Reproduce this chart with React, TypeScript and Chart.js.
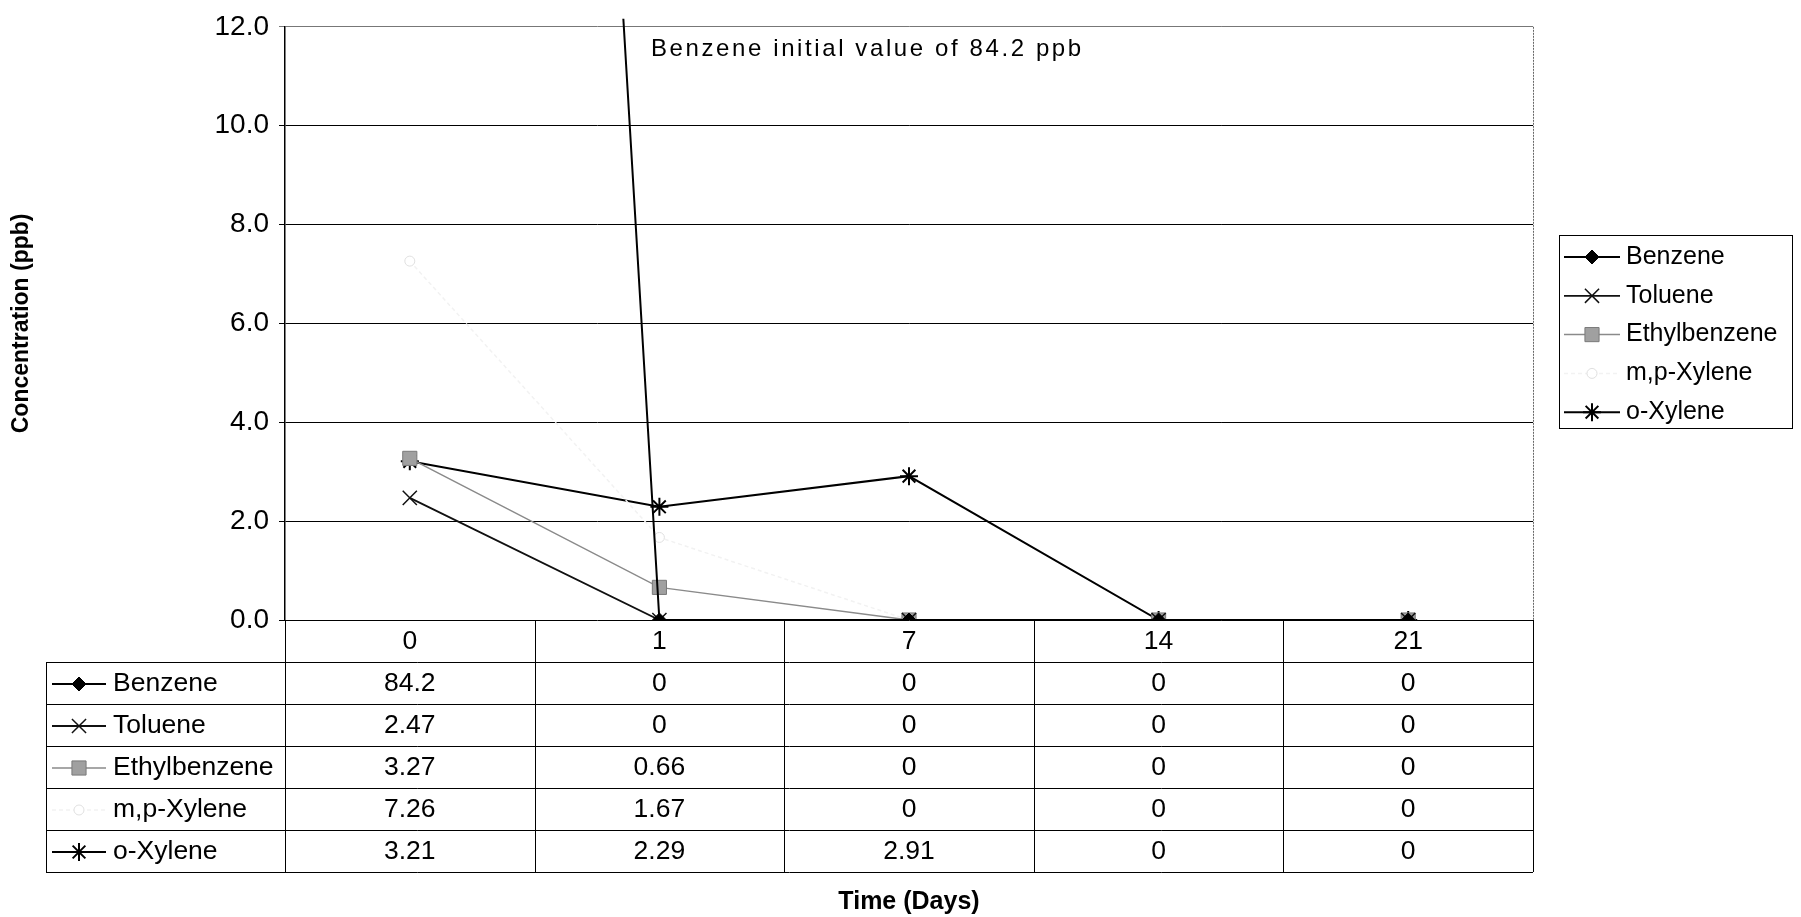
import React, { useEffect, useRef } from 'react';
import { Chart, registerables } from 'chart.js';
import { drawPoint } from 'chart.js/helpers';

Chart.register(...registerables);

const days = ['0', '1', '7', '14', '21'];
const benzene = [84.2, 0, 0, 0, 0];
const toluene = [2.47, 0, 0, 0, 0];
const ethylbenzene = [3.27, 0.66, 0, 0, 0];
const mpXylene = [7.26, 1.67, 0, 0, 0];
const oXylene = [3.21, 2.29, 2.91, 0, 0];
const seriesNames = ['Benzene', 'Toluene', 'Ethylbenzene', 'm,p-Xylene', 'o-Xylene'];
const yMin = 0;
const yMax = 12;
const yStep = 2;
const annotationText = 'Benzene initial value of 84.2 ppb';
const xTitle = 'Time (Days)';
const yTitle = 'Concentration (ppb)';

const FONT = "'Liberation Sans', Arial, sans-serif";

function drawKey(ctx: CanvasRenderingContext2D, ds: any, x1: number, x2: number, y: number) {
  ctx.save();
  ctx.strokeStyle = ds.borderColor;
  ctx.lineWidth = ds.borderWidth;
  ctx.setLineDash(ds.borderDash || []);
  ctx.beginPath();
  ctx.moveTo(x1, y);
  ctx.lineTo(x2, y);
  ctx.stroke();
  ctx.setLineDash([]);
  ctx.fillStyle = ds.pointBackgroundColor;
  ctx.strokeStyle = ds.pointBorderColor;
  ctx.lineWidth = ds.pointBorderWidth;
  drawPoint(ctx, { pointStyle: ds.pointStyle, rotation: 0, radius: ds.pointRadius, borderWidth: ds.pointBorderWidth } as any, (x1 + x2) / 2, y);
  ctx.restore();
}

const tablePlugin = {
  id: 'dataTable',
  afterDraw(chart: any) {
    const { ctx, chartArea: ca } = chart;
    const xs = chart.scales.x;
    const n = days.length;
    const colW = (ca.right - ca.left) / n;
    const tableLeft = 46;
    const rowH = 42;
    const headerTop = ca.bottom;
    const rowTop = ca.bottom + 42;
    const dsets = chart.data.datasets;
    const tableBottom = rowTop + rowH * dsets.length;
    ctx.save();

    // plot right border (dotted gray)
    ctx.strokeStyle = '#666';
    ctx.lineWidth = 1;
    ctx.setLineDash([2, 1]);
    ctx.beginPath();
    ctx.moveTo(Math.round(ca.right) + 0.5, ca.top);
    ctx.lineTo(Math.round(ca.right) + 0.5, ca.bottom);
    ctx.stroke();
    ctx.setLineDash([]);

    // table lines
    ctx.strokeStyle = '#000';
    ctx.lineWidth = 1;
    ctx.beginPath();
    for (let i = 0; i <= n; i++) {
      const x = Math.round(ca.left + i * colW) + 0.5;
      ctx.moveTo(x, headerTop);
      ctx.lineTo(x, tableBottom);
    }
    ctx.moveTo(tableLeft + 0.5, rowTop);
    ctx.lineTo(tableLeft + 0.5, tableBottom);
    for (let r = 0; r <= dsets.length; r++) {
      const y = Math.round(rowTop + r * rowH) + 0.5;
      ctx.moveTo(tableLeft, y);
      ctx.lineTo(ca.right, y);
    }
    ctx.stroke();

    // rows
    dsets.forEach((ds: any, r: number) => {
      const yc = rowTop + r * rowH + rowH / 2 + 1;
      drawKey(ctx, ds, 52, 106, yc);
      ctx.fillStyle = '#000';
      ctx.font = `26.5px ${FONT}`;
      ctx.textAlign = 'left';
      ctx.textBaseline = 'middle';
      ctx.fillText(ds.label, 113, yc);
      ctx.textAlign = 'center';
      ds.data.forEach((v: number, i: number) => {
        ctx.fillText(String(v), xs.getPixelForTick(i), yc);
      });
    });

    // legend
    const lx = 1559, ly = 235, lw = 233, lh = 193;
    ctx.fillStyle = '#fff';
    ctx.fillRect(lx, ly, lw, lh);
    ctx.strokeStyle = '#000';
    ctx.lineWidth = 1;
    ctx.strokeRect(lx + 0.5, ly + 0.5, lw, lh);
    dsets.forEach((ds: any, r: number) => {
      const yc = 257 + r * 38.8;
      drawKey(ctx, ds, 1564, 1620, yc);
      ctx.fillStyle = '#000';
      ctx.font = `25px ${FONT}`;
      ctx.textAlign = 'left';
      ctx.textBaseline = 'middle';
      ctx.fillText(ds.label, 1626, yc);
    });

    // annotation
    ctx.fillStyle = '#000';
    ctx.font = `24px ${FONT}`;
    (ctx as any).letterSpacing = '2.6px';
    ctx.textAlign = 'left';
    ctx.textBaseline = 'middle';
    ctx.fillText(annotationText, 651, 49);
    (ctx as any).letterSpacing = '0px';
    ctx.restore();
  },
};

export default function App() {
  const ref = useRef<HTMLCanvasElement | null>(null);
  useEffect(() => {
    if (!ref.current) return;
    const chart = new Chart(ref.current, {
      type: 'line',
      data: {
        labels: days,
        datasets: [
          {
            label: seriesNames[0], data: benzene,
            borderColor: '#000', borderWidth: 2,
            pointStyle: 'rectRot', pointRadius: 7, pointBackgroundColor: '#000', pointBorderColor: '#000', pointBorderWidth: 1,
            clip: { left: 0, top: 8, right: 0, bottom: 0 } as any,
          },
          {
            label: seriesNames[1], data: toluene,
            borderColor: '#111', borderWidth: 1.8,
            pointStyle: 'crossRot', pointRadius: 10, pointBackgroundColor: '#111', pointBorderColor: '#111', pointBorderWidth: 1.5,
          },
          {
            label: seriesNames[2], data: ethylbenzene,
            borderColor: '#8a8a8a', borderWidth: 1.5,
            pointStyle: 'rect', pointRadius: 10, pointBackgroundColor: '#a0a0a0', pointBorderColor: '#7a7a7a', pointBorderWidth: 1,
          },
          {
            label: seriesNames[3], data: mpXylene,
            borderColor: '#f2f2f2', borderWidth: 1.5, borderDash: [4, 3],
            pointStyle: 'circle', pointRadius: 5, pointBackgroundColor: '#fff', pointBorderColor: '#e0e0e0', pointBorderWidth: 1,
          },
          {
            label: seriesNames[4], data: oXylene,
            borderColor: '#000', borderWidth: 2,
            pointStyle: 'star', pointRadius: 9, pointBackgroundColor: '#000', pointBorderColor: '#000', pointBorderWidth: 2,
          },
        ],
      },
      options: {
        responsive: false,
        animation: false,
        layout: { padding: { top: 20, right: 268, bottom: 0, left: 0 } },
        plugins: { legend: { display: false }, tooltip: { enabled: false } },
        elements: { line: { tension: 0 } },
        scales: {
          x: {
            offset: true,
            grid: { display: false, drawTicks: false },
            border: { display: false },
            ticks: { color: '#000', font: { family: FONT, size: 26.5 }, padding: 6, maxRotation: 0 },
            title: { display: true, text: xTitle, color: '#000', font: { family: FONT, size: 25, weight: 'bold' }, padding: { top: 0, bottom: 0 } },
            afterFit: (s: any) => { s.height = 297; },
          },
          y: {
            min: yMin, max: yMax,
            ticks: { stepSize: yStep, color: '#000', font: { family: FONT, size: 28 }, padding: 10, callback: (v: any) => Number(v).toFixed(1) },
            grid: {
              color: (c: any) => (c.tick && c.tick.value === yMax ? '#777' : '#000'),
              lineWidth: 1, tickLength: 6, drawTicks: true,
            },
            border: { display: true, color: '#000', width: 1.5 },
            title: { display: true, text: yTitle, color: '#000', font: { family: FONT, size: 23, weight: 'bold' }, padding: { top: 8, bottom: 0 } },
            afterFit: (s: any) => { s.width = 285; },
          },
        },
      },
      plugins: [tablePlugin],
    });
    return () => chart.destroy();
  }, []);
  return (
    <div style={{ position: 'fixed', left: 0, top: 0, width: 1801, height: 917, background: '#fff' }}>
      <canvas ref={ref} width={1801} height={917} />
    </div>
  );
}
